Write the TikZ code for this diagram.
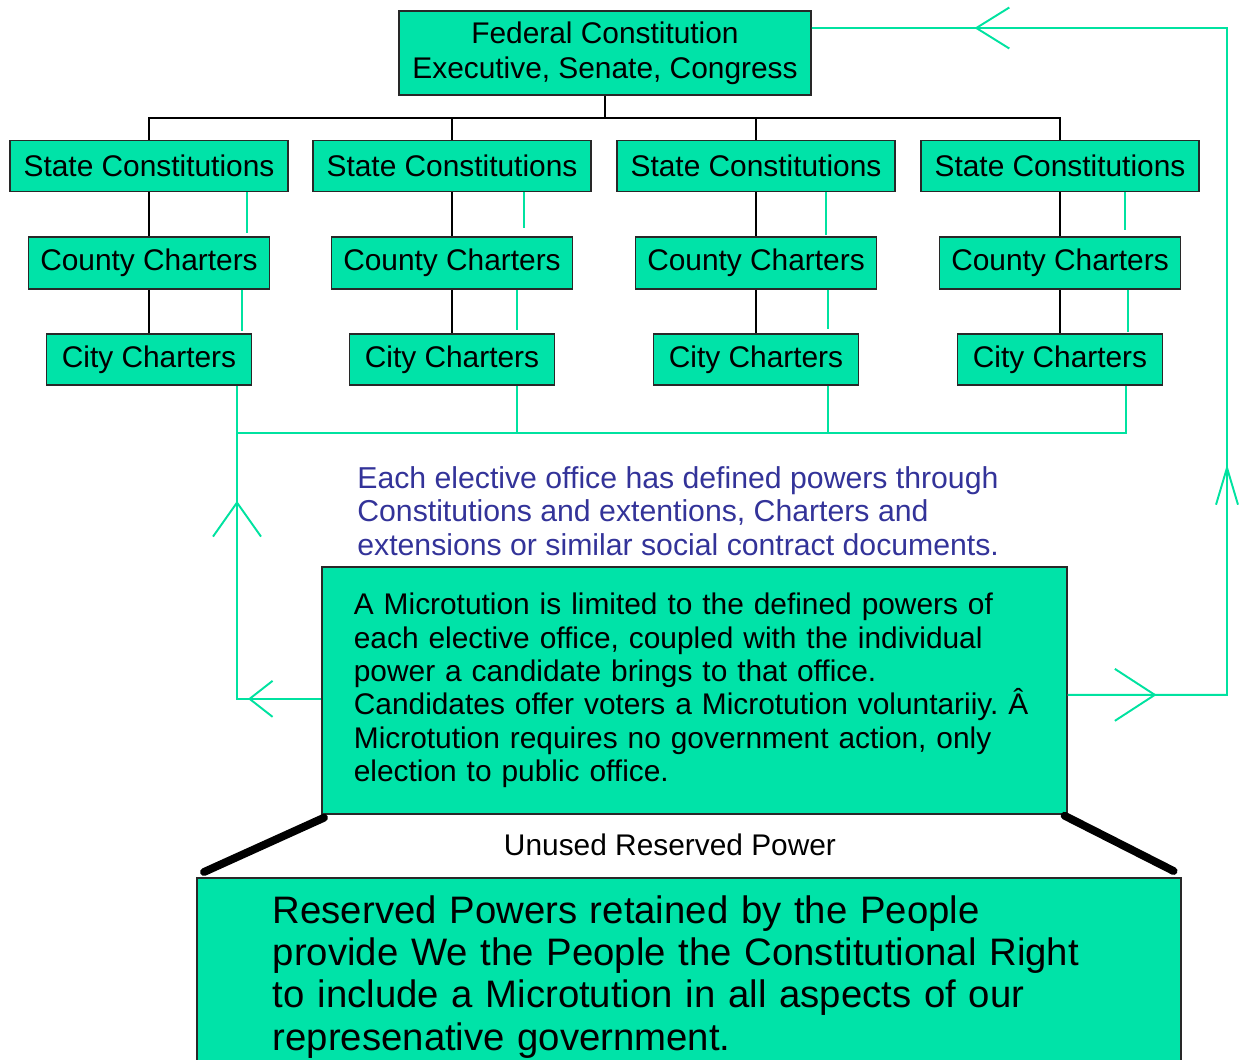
\documentclass[tikz,border=0pt]{standalone}
\usepackage{fontspec}
\setmainfont{Liberation Sans}
\usetikzlibrary{arrows.meta,positioning,calc,decorations.markings}
\definecolor{boxgreen}{RGB}{0,227,168}
\definecolor{feedgreen}{RGB}{0,226,160}
\definecolor{notenavy}{RGB}{51,51,153}
\definecolor{boxedge}{RGB}{40,40,40}

\begin{document}
\begin{tikzpicture}[x=0.02cm, y=-0.02cm,
    doc/.style={rectangle, draw=boxedge, line width=1pt, fill=boxgreen,
        font=\fontsize{17}{20}\selectfont, inner sep=0pt},
    statebox/.style={doc, minimum width=5.56cm, minimum height=1.02cm},
    countybox/.style={doc, minimum width=4.82cm, minimum height=1.04cm},
    citybox/.style={doc, minimum width=4.1cm, minimum height=1.02cm},
    note/.style={font=\fontsize{17.2}{19}\selectfont, text=notenavy, align=left, inner sep=0pt},
    tree/.style={line width=1.1pt, black},
    feed/.style={line width=1.1pt, feedgreen},
    wedge/.style={line width=4.5pt, black, line cap=round}
]
    \useasboundingbox (0,0) rectangle (1241,1059);

    % Federal level
    \node[doc, minimum width=8.24cm, minimum height=1.68cm, align=center] (fed) at (605,53)
        {Federal Constitution\\Executive, Senate, Congress};
    \coordinate (bus) at (605,118);

    % States, counties, cities
    \node[statebox] (s1) at (149,166) {State Constitutions};
    \node[statebox] (s2) at (452,166) {State Constitutions};
    \node[statebox] (s3) at (756,166) {State Constitutions};
    \node[statebox] (s4) at (1060,166) {State Constitutions};

    \node[countybox] (c1) at (149,263) {County Charters};
    \node[countybox] (c2) at (452,263) {County Charters};
    \node[countybox] (c3) at (756,263) {County Charters};
    \node[countybox] (c4) at (1060,263) {County Charters};

    \node[citybox] (y1) at (149,359.5) {City Charters};
    \node[citybox] (y2) at (452,359.5) {City Charters};
    \node[citybox] (y3) at (756,359.5) {City Charters};
    \node[citybox] (y4) at (1060,359.5) {City Charters};

    % Black hierarchy lines
    \draw[tree] (fed.south) -- (bus);
    \draw[tree] (bus) -| (s1.north);
    \draw[tree] (bus) -| (s2.north);
    \draw[tree] (bus) -| (s3.north);
    \draw[tree] (bus) -| (s4.north);
    \draw[tree] (s1) -- (c1) -- (y1);
    \draw[tree] (s2) -- (c2) -- (y2);
    \draw[tree] (s3) -- (c3) -- (y3);
    \draw[tree] (s4) -- (c4) -- (y4);

    % Green power lines down the columns
    \draw[feed] ($(s1.south)+(98,0)$) -- ($(c1.north)+(98,-3)$);
    \draw[feed] ($(s2.south)+(72,0)$) -- ($(c2.north)+(72,-8)$);
    \draw[feed] ($(s3.south)+(70,0)$) -- ($(c3.north)+(70,-1)$);
    \draw[feed] ($(s4.south)+(65,0)$) -- ($(c4.north)+(65,-6)$);
    \draw[feed] ($(c1.south)+(93,0)$) -- ($(y1.north)+(93,-2)$);
    \draw[feed] ($(c2.south)+(65,0)$) -- ($(y2.north)+(65,-3)$);
    \draw[feed] ($(c3.south)+(72,0)$) -- ($(y3.north)+(72,-4)$);
    \draw[feed] ($(c4.south)+(68,0)$) -- ($(y4.north)+(68,-1)$);

    % Collecting line under the cities
    \coordinate (busL) at ($(y1.south)+(88,47)$);
    \draw[feed] ($(y1.south)+(88,0)$) -- (busL) -- ($(y4.south)+(66,47)$) -- ($(y4.south)+(66,0)$);
    \draw[feed] ($(y2.south)+(65,0)$) -- ($(y2.south)+(65,47)$);
    \draw[feed] ($(y3.south)+(72,0)$) -- ($(y3.south)+(72,47)$);

    % Note
    \node[note, anchor=north west] (note) at (357,466)
        {Each elective office has defined powers through\\Constitutions and extentions, Charters and\\extensions or similar social contract documents.};

    % Microtution box
    \node[doc, anchor=north west, text width=13.62cm, inner xsep=0.64cm, minimum height=4.94cm,
        align=left, font=\fontsize{17}{19}\selectfont] (micro) at (321,566)
        {A Microtution is limited to the defined powers of\\each elective office, coupled with the individual\\power a candidate brings to that office.\\Candidates offer voters a Microtution voluntariiy.~Â\\Microtution requires no government action, only\\election to public office.};

    % Reserved powers
    \node[font=\fontsize{17}{20}\selectfont] (unused) at (670,845) {Unused Reserved Power};
    \node[doc, anchor=north west, text width=16.64cm, inner xsep=1.52cm, inner ysep=0.36cm,
        align=left, font=\fontsize{21.8}{24}\selectfont] (base) at (196,877)
        {Reserved Powers retained by the People\\provide We the People the Constitutional Right\\to include a Microtution in all aspects of our\\represenative government.};
    \draw[wedge] ($(micro.south west)+(3,3)$) -- ($(base.north west)+(8,-5)$);
    \draw[wedge] ($(micro.south east)+(-3,1)$) -- ($(base.north east)+(-8,-6)$);

    % Feedback loops
    \draw[feed, postaction={decorate}, decoration={markings,
        mark=at position 1.46cm with {\arrow{Straight Barb[length=0.46cm, width=0.72cm]}},
        mark=at position 5.64cm with {\arrow{Straight Barb[length=0.68cm, width=0.96cm]}}}]
        ([yshift=-0.17cm]micro.west) -| (busL);
    \coordinate (corner) at (1227,28);
    \draw[feed, postaction={decorate}, decoration={markings,
        mark=at position 1.78cm with {\arrow{Straight Barb[length=0.8cm, width=1.04cm]}},
        mark=at position 7.8cm with {\arrow{Straight Barb[length=0.74cm, width=0.44cm]}},
        mark=at position 21.58cm with {\arrow{Straight Barb[length=0.66cm, width=0.82cm]}}}]
        ([yshift=-0.09cm]micro.east) -| (corner) -- ([yshift=0.5cm]fed.east);
\end{tikzpicture}
\end{document}
